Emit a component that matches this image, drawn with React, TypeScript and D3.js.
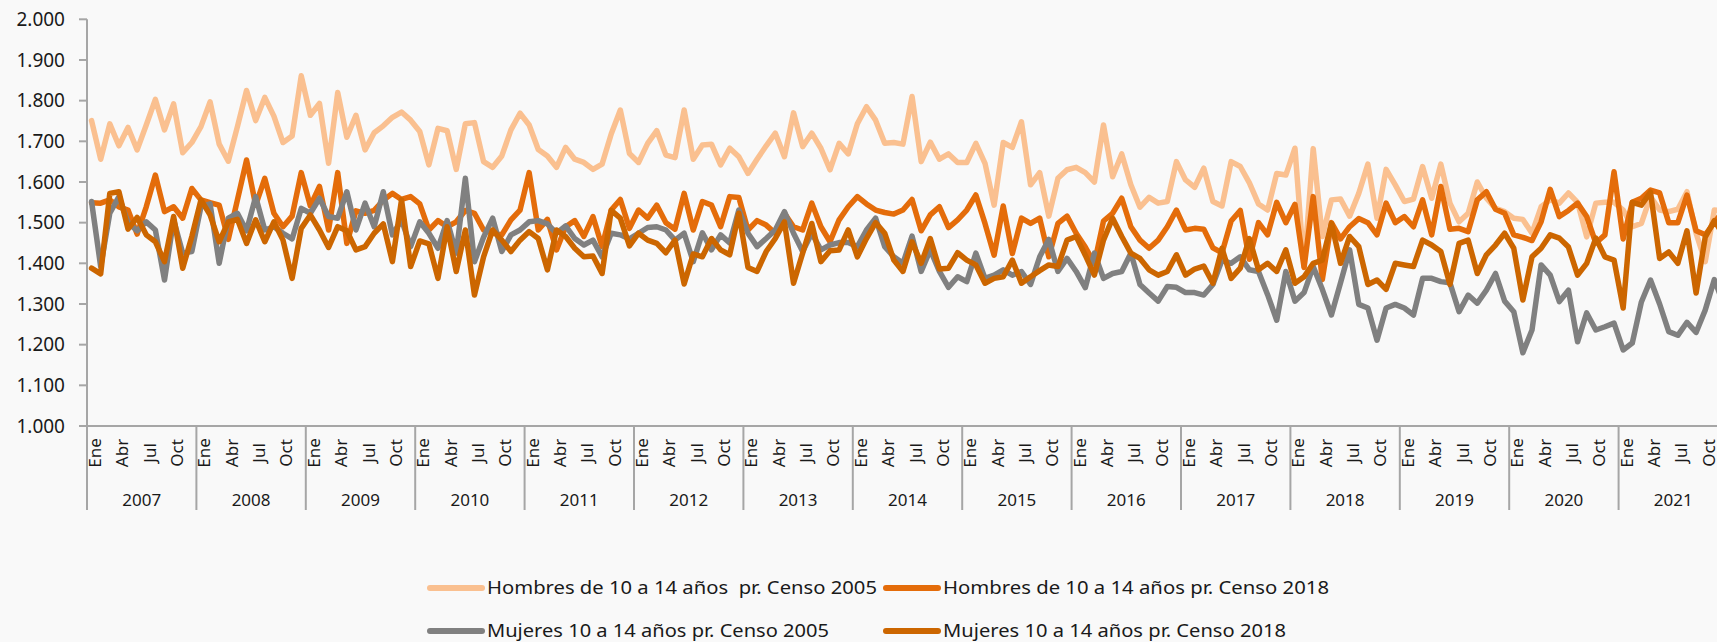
import React from 'react';
import * as d3 from 'd3';

// monthly values, Jan 2007 .. Dec 2021
const years = ['2007', '2008', '2009', '2010', '2011', '2012', '2013', '2014', '2015', '2016', '2017', '2018', '2019', '2020', '2021'];
const monthTicks = ['Ene', '', '', 'Abr', '', '', 'Jul', '', '', 'Oct', '', ''];
const yTicks = [1000, 1100, 1200, 1300, 1400, 1500, 1600, 1700, 1800, 1900, 2000];

const hombres2005 = [
  1751, 1656, 1743, 1689, 1734, 1679, 1740, 1803, 1728, 1792, 1672, 1697,
  1736, 1797, 1693, 1651, 1736, 1825, 1751, 1808, 1762, 1697, 1713, 1861,
  1764, 1793, 1646, 1820, 1710, 1764, 1679, 1721, 1738, 1759, 1772, 1752,
  1724, 1642, 1732, 1726, 1631, 1743, 1746, 1650, 1636, 1664, 1728, 1769,
  1740, 1680, 1664, 1636, 1685, 1656, 1648, 1631, 1644, 1718, 1777, 1670,
  1648, 1695, 1726, 1666, 1660, 1777, 1656, 1691, 1693, 1642, 1683, 1662,
  1621, 1656, 1689, 1720, 1662, 1770, 1687, 1720, 1683, 1630, 1695, 1669,
  1743, 1785, 1752, 1695, 1697, 1693, 1810, 1650, 1698, 1656, 1669, 1648,
  1648, 1695, 1646, 1543, 1697, 1685, 1748, 1593, 1623, 1516, 1609, 1630,
  1636, 1623, 1600, 1740, 1613, 1669, 1593, 1538, 1562, 1548, 1552, 1650,
  1605, 1587, 1634, 1552, 1541, 1650, 1638, 1598, 1546, 1531, 1621, 1617,
  1683, 1390, 1682, 1466, 1556, 1558, 1516, 1572, 1644, 1511, 1631, 1593,
  1552, 1558, 1638, 1560, 1644, 1548, 1502, 1523, 1600, 1560, 1535, 1527,
  1511, 1508, 1474, 1539, 1556, 1548, 1573, 1550, 1465, 1548, 1550, 1550,
  1531, 1490, 1498, 1564, 1531, 1527, 1533, 1576, 1474, 1404, 1531, 1530,
];

const hombres2018 = [
  1549, 1548, 1556, 1539, 1531, 1472, 1539, 1617, 1527, 1539, 1511, 1584,
  1556, 1549, 1543, 1459, 1556, 1654, 1543, 1609, 1523, 1490, 1516, 1623,
  1541, 1589, 1482, 1623, 1449, 1529, 1523, 1530, 1555, 1572, 1557, 1564,
  1546, 1482, 1505, 1490, 1502, 1530, 1523, 1482, 1474, 1470, 1507, 1531,
  1623, 1482, 1508, 1433, 1490, 1505, 1466, 1515, 1441, 1531, 1557, 1486,
  1531, 1511, 1543, 1500, 1484, 1572, 1482, 1552, 1543, 1490, 1564, 1562,
  1482, 1505, 1494, 1474, 1523, 1490, 1482, 1548, 1490, 1453, 1507, 1539,
  1564, 1546, 1531, 1525, 1521, 1531, 1557, 1480, 1519, 1539, 1488, 1507,
  1531, 1568, 1498, 1420, 1541, 1424, 1511, 1498, 1511, 1416, 1498, 1516,
  1474, 1440, 1400, 1504, 1523, 1560, 1490, 1457, 1437, 1457, 1490, 1531,
  1482, 1486, 1484, 1438, 1426, 1504, 1530, 1410, 1500, 1470, 1550, 1500,
  1545, 1390, 1564, 1360, 1500, 1460, 1490, 1510, 1500, 1470, 1548, 1500,
  1515, 1490, 1556, 1470, 1589, 1484, 1486, 1478, 1556, 1576, 1533, 1523,
  1470, 1464, 1456, 1502, 1582, 1515, 1530, 1548, 1515, 1450, 1470, 1625,
  1460, 1550, 1560, 1580, 1573, 1500, 1500, 1568, 1480, 1470, 1500, 1530,
];

const mujeres2005 = [
  1552, 1392, 1523, 1564, 1500, 1480, 1502, 1482, 1359, 1507, 1425, 1429,
  1539, 1546, 1400, 1511, 1523, 1480, 1564, 1482, 1490, 1474, 1460, 1535,
  1523, 1560, 1515, 1511, 1576, 1482, 1548, 1490, 1576, 1470, 1507, 1441,
  1502, 1474, 1437, 1505, 1425, 1609, 1404, 1464, 1511, 1429, 1470, 1482,
  1502, 1505, 1497, 1474, 1492, 1461, 1445, 1457, 1416, 1474, 1470, 1460,
  1474, 1488, 1490, 1482, 1457, 1474, 1404, 1475, 1433, 1470, 1450, 1531,
  1474, 1441, 1461, 1482, 1527, 1474, 1429, 1474, 1433, 1445, 1451, 1451,
  1441, 1482, 1511, 1441, 1416, 1400, 1467, 1380, 1433, 1380, 1341, 1367,
  1355, 1425, 1363, 1371, 1384, 1371, 1380, 1348, 1416, 1459, 1380, 1412,
  1380, 1340, 1425, 1363, 1375, 1380, 1425, 1348, 1327, 1307, 1343, 1341,
  1328, 1328, 1322, 1348, 1408, 1400, 1416, 1384, 1380, 1323, 1260, 1380,
  1307, 1328, 1392, 1336, 1273, 1352, 1433, 1299, 1290, 1211, 1290, 1299,
  1290, 1273, 1363, 1363, 1355, 1352, 1281, 1322, 1302, 1334, 1375, 1307,
  1281, 1180, 1236, 1396, 1371, 1306, 1334, 1207, 1278, 1236, 1244, 1253,
  1187, 1204, 1305, 1359, 1300, 1232, 1223, 1255, 1230, 1285, 1360, 1300,
];

const mujeres2018 = [
  1388, 1374, 1572, 1576, 1484, 1513, 1470, 1453, 1404, 1515, 1388, 1466,
  1556, 1519, 1453, 1502, 1508, 1449, 1507, 1453, 1502, 1457, 1363, 1486,
  1519, 1482, 1439, 1490, 1480, 1433, 1441, 1474, 1497, 1404, 1556, 1392,
  1455, 1448, 1363, 1490, 1380, 1482, 1322, 1416, 1482, 1457, 1429, 1457,
  1478, 1461, 1384, 1482, 1466, 1437, 1416, 1418, 1375, 1530, 1511, 1443,
  1474, 1457, 1449, 1426, 1457, 1349, 1423, 1416, 1461, 1433, 1421, 1523,
  1390, 1380, 1429, 1461, 1502, 1351, 1425, 1498, 1404, 1431, 1433, 1482,
  1416, 1461, 1500, 1474, 1408, 1380, 1453, 1400, 1461, 1386, 1388, 1426,
  1408, 1396, 1351, 1363, 1367, 1408, 1351, 1367, 1382, 1396, 1392, 1457,
  1466, 1420, 1371, 1457, 1511, 1466, 1425, 1412, 1384, 1371, 1380, 1421,
  1371, 1386, 1393, 1351, 1437, 1363, 1388, 1461, 1384, 1400, 1380, 1433,
  1351, 1367, 1400, 1408, 1498, 1400, 1466, 1441, 1348, 1359, 1336, 1400,
  1396, 1392, 1457, 1445, 1429, 1348, 1449, 1457, 1375, 1421, 1445, 1474,
  1437, 1310, 1416, 1437, 1470, 1462, 1440, 1371, 1400, 1462, 1416, 1408,
  1290, 1550, 1543, 1575, 1412, 1428, 1400, 1480, 1327, 1464, 1505, 1470,
];

const series = [
  { name: 'Hombres de 10 a 14 años  pr. Censo 2005', values: hombres2005, color: '#fac090' },
  { name: 'Hombres de 10 a 14 años pr. Censo 2018', values: hombres2018, color: '#e46c0a' },
  { name: 'Mujeres 10 a 14 años pr. Censo 2005', values: mujeres2005, color: '#808080' },
  { name: 'Mujeres 10 a 14 años pr. Censo 2018', values: mujeres2018, color: '#cc6600' },
];

const W = 1717;
const H = 642;
const left = 87;
const yearW = 109.4;
const top = 19.3;
const bottom = 426;

const locale = d3.formatLocale({ decimal: ',', thousands: '.', grouping: [3], currency: ['$', ''] });
const fmt = locale.format(',');

const FONT = '"Noto Sans", "Open Sans", sans-serif';

const App = () => {
  const nMonths = years.length * 12;
  const x = d3.scaleLinear().domain([0, nMonths]).range([left, left + years.length * yearW]);
  const y = d3.scaleLinear().domain([1000, 2000]).range([bottom, top]);

  const line = d3
    .line<number>()
    .x((_, i) => x(i + 0.5))
    .y((d) => y(d));

  // legend slots (Excel style grid, 2 x 2)
  const legendPos = [
    { lx: 430, ty: 588, tw: 390 },
    { lx: 886, ty: 588, tw: 386 },
    { lx: 430, ty: 631, tw: 342 },
    { lx: 886, ty: 631, tw: 343 },
  ];

  return (
    <div>
      <style>{'body{margin:0;background:#f9f9f9}'}</style>
      <svg width={W} height={H} style={{ display: 'block', background: '#f9f9f9' }} fontFamily={FONT}>
        {/* y axis */}
        <line x1={left} x2={left} y1={top} y2={bottom} stroke="#a6a6a6" strokeWidth={2} />
        {yTicks.map((t) => (
          <g key={t}>
            <line x1={left - 8} x2={left} y1={y(t)} y2={y(t)} stroke="#a6a6a6" strokeWidth={2} />
            <text x={65} y={y(t)} dy="0.35em" textAnchor="end" fontSize={19} fill="#1a1a1a">
              {fmt(t)}
            </text>
          </g>
        ))}

        {/* x axis */}
        <line x1={left} x2={W} y1={bottom} y2={bottom} stroke="#a6a6a6" strokeWidth={2} />
        {years.map((yr, k) => {
          const x0 = x(k * 12);
          return (
            <g key={yr}>
              <line x1={x0} x2={x0} y1={bottom} y2={510} stroke="#a6a6a6" strokeWidth={2} />
              <text x={x(k * 12 + 6)} y={506} textAnchor="middle" fontSize={17} fill="#1a1a1a">
                {yr}
              </text>
              {monthTicks.map((m, j) =>
                m ? (
                  <text
                    key={j}
                    transform={`translate(${x(k * 12 + j + 0.5) + 3.5},453) rotate(-90)`}
                    textAnchor="middle"
                    dy="0.35em"
                    fontSize={17}
                    fill="#1a1a1a"
                  >
                    {m}
                  </text>
                ) : null
              )}
            </g>
          );
        })}

        {/* lines */}
        {series.map((s) => (
          <path
            key={s.name}
            d={line(s.values) || ''}
            fill="none"
            stroke={s.color}
            strokeWidth={5.5}
            strokeLinejoin="round"
            strokeLinecap="round"
          />
        ))}

        {/* legend */}
        {series.map((s, i) => {
          const p = legendPos[i];
          return (
            <g key={s.name}>
              <line x1={p.lx} x2={p.lx + 52} y1={p.ty} y2={p.ty} stroke={s.color} strokeWidth={6} strokeLinecap="round" />
              <text
                x={p.lx + 57}
                y={p.ty}
                dy="0.35em"
                fontSize={18}
                fill="#1a1a1a"
                textLength={p.tw}
                lengthAdjust="spacingAndGlyphs"
                style={{ whiteSpace: 'pre' }}
              >
                {s.name}
              </text>
            </g>
          );
        })}
      </svg>
    </div>
  );
};

export default App;
